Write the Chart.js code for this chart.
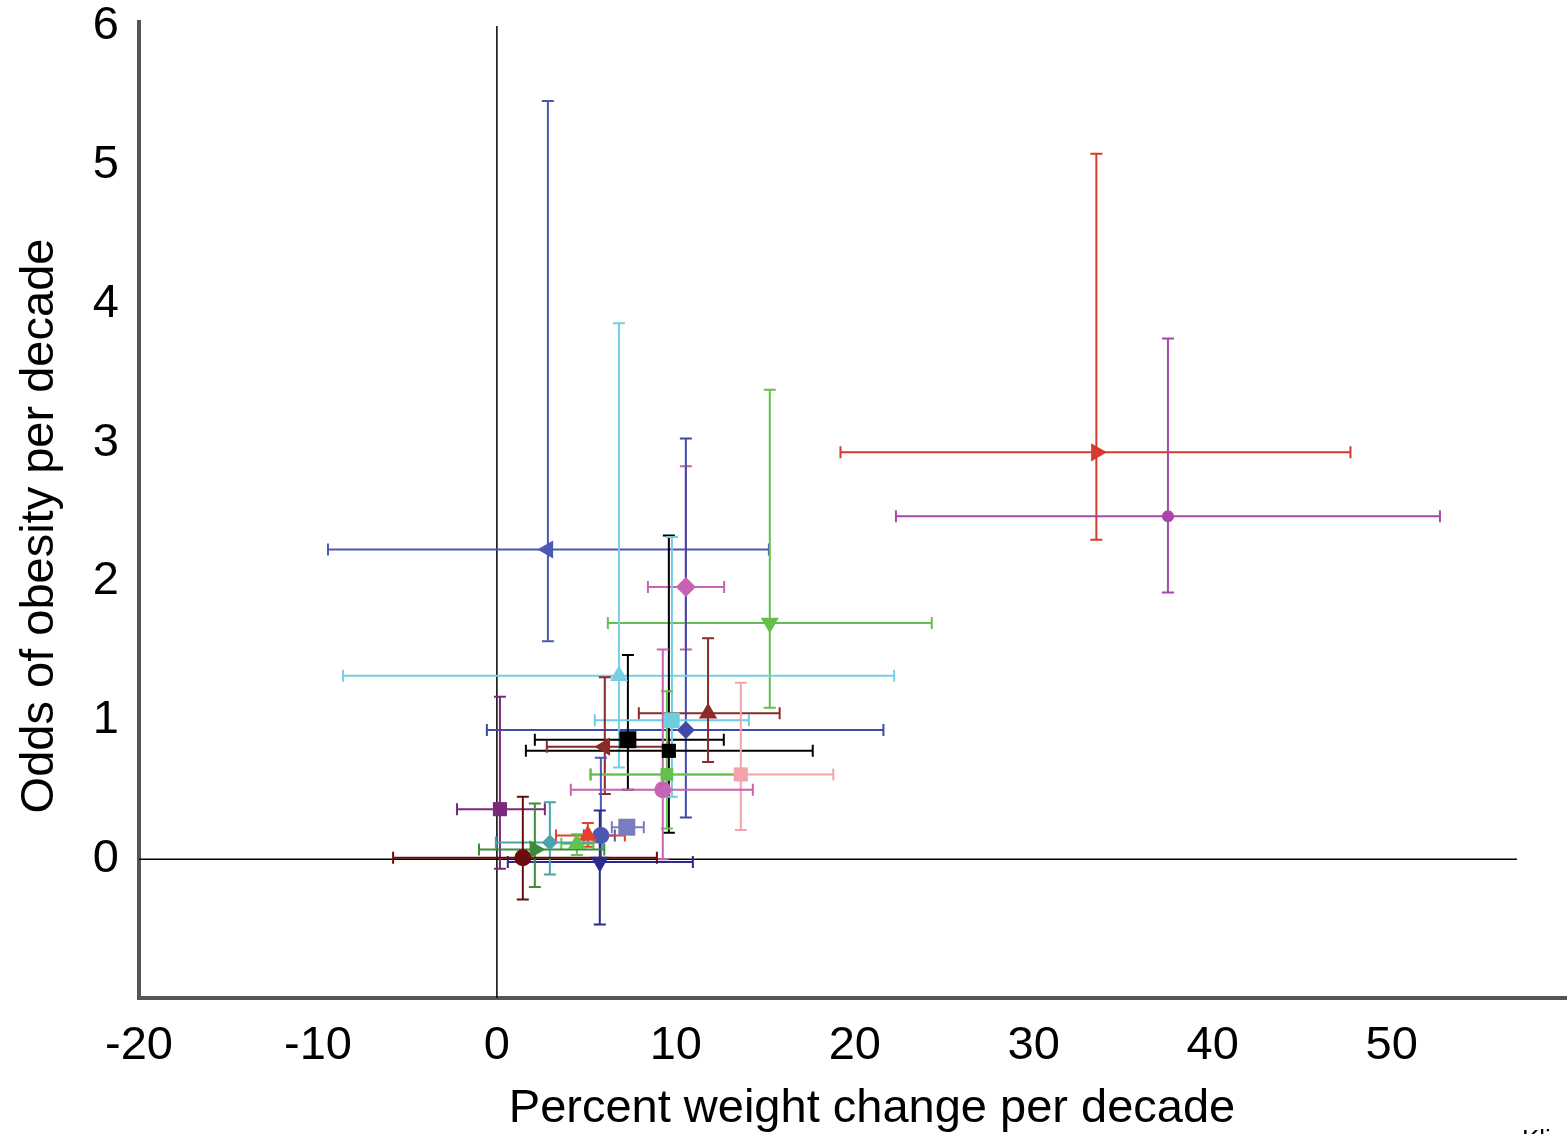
<!DOCTYPE html>
<html>
<head>
<meta charset="utf-8">
<title>Weight change vs odds of obesity</title>
<script src="https://cdn.jsdelivr.net/npm/chart.js@4/dist/chart.umd.min.js"></script>
<style>
  html, body { margin: 0; padding: 0; background: #fff; overflow: hidden; }
  #wrap { width: 1567px; height: 1134px; }
  canvas { display: block; }
</style>
</head>
<body>
<div id="wrap"><canvas id="oddsChart" width="1567" height="1134"></canvas></div>
<script>
// one entry per study: percent weight change per decade (x) and odds of obesity per decade (y)
const studies = [
  'Study 1', 'Study 2', 'Study 3', 'Study 4', 'Study 5', 'Study 6',
  'Study 7', 'Study 8', 'Study 9', 'Study 10', 'Study 11', 'Study 12',
  'Study 13', 'Study 14', 'Study 15', 'Study 16', 'Study 17', 'Study 18',
  'Study 19', 'Study 20', 'Study 21', 'Study 22', 'Study 23', 'Study 24'
];
const weightChange = [2.85, 33.5, 37.5, 15.25, 10.56, 10.56, 6.82, 7.32, 9.61, 9.78, 11.8, 6.03,
                      13.63, 9.5, 9.27, 0.17, 7.26, 5.81, 5.75, 5.08, 4.47, 2.96, 2.12, 1.45];
const weightLow = [-9.44, 19.2, 22.3, 6.2, 8.44, -0.56, -8.6, 2.12, 1.62, 5.47, 7.93, 2.79,
                   5.2, 5.25, 4.13, -2.23, 6.42, 4.86, 0.61, 3.3, 3.6, -0.06, -1.0, -5.8];
const weightHigh = [15.2, 47.7, 52.7, 24.3, 12.7, 21.6, 22.2, 12.68, 17.65, 14.08, 15.8, 9.55,
                    18.8, 13.58, 14.3, 2.68, 8.21, 6.59, 10.95, 7.15, 5.4, 5.9, 6.0, 8.94];
const obesityOdds = [2.23, 2.93, 2.47, 1.70, 1.96, 0.93, 1.32, 0.86, 0.78, 1.00, 1.05, 0.81,
                     0.61, 0.61, 0.50, 0.36, 0.23, 0.17, -0.02, 0.17, 0.11, 0.12, 0.07, 0.01];
const oddsLow = [1.57, 2.30, 1.92, 1.09, 1.51, 0.30, 0.66, 0.50, 0.19, 0.45, 0.70, 0.47,
                 0.21, 0.22, 0.0, -0.07, 0.20, 0.0, -0.47, 0.09, 0.03, -0.11, -0.20, -0.29];
const oddsHigh = [5.46, 5.08, 3.75, 3.38, 2.83, 3.03, 3.86, 1.47, 2.33, 2.32, 1.59, 1.31,
                  1.27, 1.21, 1.51, 1.17, 0.26, 0.73, 0.35, 0.26, 0.18, 0.41, 0.40, 0.45];
const xTicks = [-20, -10, 0, 10, 20, 30, 40, 50];
const yTicks = [0, 1, 2, 3, 4, 5, 6];

// marker look per study
const studyColors = ['#4b59b3', '#d53a2a', '#a947a9', '#64bf4e', '#c862b2', '#3f4aa8',
                     '#74d0e2', '#000000', '#000000', '#6fcde0', '#8c2a2a', '#8c2a2a',
                     '#f4a3aa', '#63c04c', '#c862b2', '#7b2a7b', '#7b7bc0', '#4b59b3',
                     '#2b2b8c', '#e5402a', '#66c24e', '#4aa3a8', '#3b8c3b', '#6b0c0c'];
const markerShapes = ['triangle', 'triangle', 'circle', 'triangle', 'rectRot', 'rectRot',
                      'triangle', 'rect', 'rect', 'rect', 'triangle', 'triangle',
                      'rect', 'rect', 'circle', 'rect', 'rect', 'circle',
                      'triangle', 'triangle', 'triangle', 'rectRot', 'triangle', 'circle'];
const markerTurns = [270, 90, 0, 180, 0, 0, 0, 0, 0, 0, 0, 270,
                     0, 0, 0, 0, 0, 0, 180, 0, 0, 0, 90, 0];
const markerSizes = [10.5, 10.5, 6, 10.5, 10, 9, 10.5, 12, 10, 11, 10.5, 10.5,
                     10, 9, 8.5, 10, 12, 8.5, 10.5, 10.5, 10.5, 8, 10.5, 8.5];

const axisFont = { family: '"Liberation Sans", Arial, sans-serif', size: 47 };

// thin reference lines through x = 0 and y = 0
const zeroLines = {
  id: 'zeroLines',
  beforeDatasetsDraw(chart) {
    const { ctx, scales: { x, y } } = chart;
    ctx.save();
    ctx.strokeStyle = '#000';
    ctx.lineWidth = 1.5;
    ctx.beginPath();
    ctx.moveTo(x.getPixelForValue(0), y.getPixelForValue(6));
    ctx.lineTo(x.getPixelForValue(0), y.getPixelForValue(-1));
    ctx.moveTo(x.getPixelForValue(-20), y.getPixelForValue(0));
    ctx.lineTo(x.getPixelForValue(57), y.getPixelForValue(0));
    ctx.stroke();
    ctx.restore();
  }
};

// 95% intervals in both directions, with end caps
const errorBars = {
  id: 'errorBars',
  beforeDatasetsDraw(chart) {
    const { ctx, scales: { x, y } } = chart;
    const cap = 6;
    ctx.save();
    ctx.lineWidth = 2;
    studies.forEach((_, i) => {
      const px = x.getPixelForValue(weightChange[i]);
      const py = y.getPixelForValue(obesityOdds[i]);
      const x0 = x.getPixelForValue(weightLow[i]);
      const x1 = x.getPixelForValue(weightHigh[i]);
      const y0 = y.getPixelForValue(oddsLow[i]);
      const y1 = y.getPixelForValue(oddsHigh[i]);
      ctx.strokeStyle = studyColors[i];
      ctx.beginPath();
      ctx.moveTo(x0, py); ctx.lineTo(x1, py);
      ctx.moveTo(x0, py - cap); ctx.lineTo(x0, py + cap);
      ctx.moveTo(x1, py - cap); ctx.lineTo(x1, py + cap);
      ctx.moveTo(px, y0); ctx.lineTo(px, y1);
      ctx.moveTo(px - cap, y0); ctx.lineTo(px + cap, y0);
      ctx.moveTo(px - cap, y1); ctx.lineTo(px + cap, y1);
      ctx.stroke();
    });
    ctx.restore();
  }
};

// axis titles and source note
const axisTitles = {
  id: 'axisTitles',
  afterDraw(chart) {
    const { ctx, chartArea } = chart;
    ctx.save();
    // left axis runs a few pixels past the top of the plot
    ctx.fillStyle = '#555';
    ctx.fillRect(chartArea.left - 2, 20, 4, chartArea.top - 20);
    ctx.fillStyle = '#000';
    ctx.font = '47px "Liberation Sans", Arial, sans-serif';
    ctx.textBaseline = 'alphabetic';
    ctx.textAlign = 'center';
    ctx.fillText('Percent weight change per decade', 872, 1122);
    ctx.save();
    ctx.translate(53, 526);
    ctx.rotate(-Math.PI / 2);
    ctx.fillText('Odds of obesity per decade', 0, 0);
    ctx.restore();
    ctx.font = '26px "Liberation Sans", Arial, sans-serif';
    ctx.textAlign = 'left';
    ctx.fillText('Klin', 1522, 1148);
    ctx.restore();
  }
};

// fixed axis box sizes, no extra room for overhanging tick labels
const fixBox = size => axis => {
  if (axis.isHorizontal()) axis.height = size; else axis.width = size;
  axis.paddingTop = 0;
  axis.paddingBottom = 0;
  axis.paddingLeft = 0;
  axis.paddingRight = 0;
};

const ctx = document.getElementById('oddsChart').getContext('2d');
const chart = new Chart(ctx, {
  type: 'scatter',
  data: {
    datasets: studies.map((name, i) => ({
      label: name,
      data: [{ x: weightChange[i], y: obesityOdds[i] }],
      pointStyle: markerShapes[i],
      pointRotation: markerTurns[i],
      pointRadius: markerSizes[i],
      pointHoverRadius: markerSizes[i],
      pointBackgroundColor: studyColors[i],
      pointBorderColor: studyColors[i],
      pointBorderWidth: 0,
      showLine: false
    })).reverse()
  },
  options: {
    responsive: false,
    animation: false,
    events: [],
    layout: { autoPadding: false, padding: { top: 26, right: 0, bottom: 0, left: 0 } },
    scales: {
      x: {
        type: 'linear',
        min: -20,
        max: 59.8,
        afterBuildTicks: axis => { axis.ticks = xTicks.map(v => ({ value: v })); },
        afterFit: fixBox(136),
        grid: { display: false, drawTicks: false },
        border: { display: true, color: '#555', width: 4 },
        ticks: { color: '#000', font: axisFont, padding: 20, maxRotation: 0, autoSkip: false }
      },
      y: {
        type: 'linear',
        min: -1,
        max: 6,
        afterBuildTicks: axis => { axis.ticks = yTicks.map(v => ({ value: v })); },
        afterFit: fixBox(139),
        grid: { display: false, drawTicks: false },
        border: { display: true, color: '#555', width: 4 },
        ticks: { color: '#000', font: axisFont, padding: 20, autoSkip: false }
      }
    },
    plugins: {
      legend: { display: false },
      tooltip: { enabled: false }
    }
  },
  plugins: [zeroLines, errorBars, axisTitles]
});
</script>
</body>
</html>
